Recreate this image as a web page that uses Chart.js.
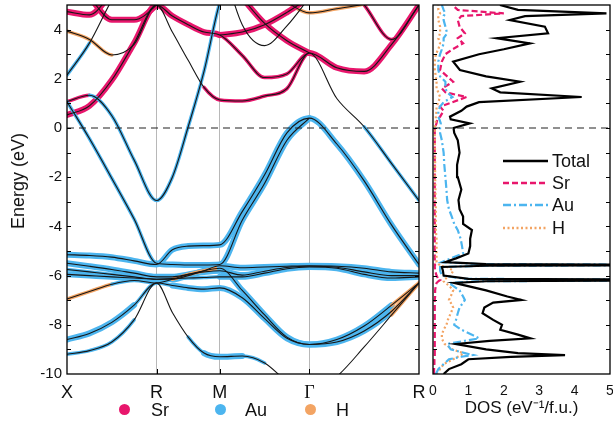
<!DOCTYPE html>
<html>
<head>
<meta charset="utf-8">
<script src="https://cdn.jsdelivr.net/npm/chart.js@4.4.0/dist/chart.umd.min.js"></script>
<style>
  body { margin: 0; background: #fff; font-family: "Liberation Sans", Arial, sans-serif; }
  #quadro { position: relative; width: 613px; height: 426px; overflow: hidden; }
  canvas { position: absolute; left: 0; top: 0; }
  .leg { position: absolute; font-size: 18px; line-height: 20px; color: #111; white-space: nowrap; }
  .ponto { position: absolute; width: 11px; height: 11px; border-radius: 50%; }
  #tituloY { position: absolute; left: 18px; top: 181px; font-size: 18px; line-height: 20px; color: #111;
    white-space: nowrap; transform: translate(-50%, -50%) rotate(-90deg); }
  svg { position: absolute; overflow: visible; }
</style>
</head>
<body>
<div id="quadro">
  <canvas id="bandas" width="613" height="426"></canvas>
  <canvas id="dos" width="613" height="426"></canvas>
  <div id="tituloY">Energy (eV)</div>

  <!-- legenda das bandas -->
  <div class="ponto" style="left:119px;top:404px;background:#e8166c"></div>
  <span class="leg" style="left:151px;top:400px">Sr</span>
  <div class="ponto" style="left:215px;top:404px;background:#4cb5ef"></div>
  <span class="leg" style="left:245px;top:400px">Au</span>
  <div class="ponto" style="left:305px;top:404px;background:#f3a463"></div>
  <span class="leg" style="left:336px;top:400px">H</span>

  <!-- legenda da DOS -->
  <svg style="left:503px;top:150px" width="46" height="90">
    <line x1="0" y1="11" x2="45" y2="11" stroke="#000" stroke-width="2.5"/>
    <line x1="0" y1="33" x2="45" y2="33" stroke="#e8166c" stroke-width="2.5" stroke-dasharray="6 3"/>
    <line x1="0" y1="55" x2="45" y2="55" stroke="#4cb5ef" stroke-width="2.5" stroke-dasharray="8 3 2 3"/>
    <line x1="0" y1="78" x2="45" y2="78" stroke="#f3a463" stroke-width="2.5" stroke-dasharray="2 2.5"/>
  </svg>
  <span class="leg" style="left:552px;top:151px">Total</span>
  <span class="leg" style="left:552px;top:173px">Sr</span>
  <span class="leg" style="left:552px;top:195px">Au</span>
  <span class="leg" style="left:552px;top:218px">H</span>
</div>

<script>
// Caminho de alta simetria (comprimento k acumulado)
const kPontos = [0, 0.707, 1.207, 1.914, 2.78];
const rotulosK = ["X", "R", "M", "Γ", "R"];
const kGrade = [0, 0.177, 0.354, 0.53, 0.707, 0.832, 0.957, 1.082, 1.207,
  1.384, 1.561, 1.737, 1.914, 2.131, 2.347, 2.564, 2.78];

// Energias (eV) de cada banda nos pontos de kGrade
const bandaB1 = [-9.2, -9.05, -8.7, -7.8, -6.3, -7.5, -8.5, -9.15, -9.3, -9.27, -9.55, -10.3, -10.8, -10.1, -8.9, -7.6, -6.3];
const bandaB2 = [-8.6, -8.35, -7.9, -7.2, -6.3, -6.4, -6.5, -6.55, -6.5, -6.9, -7.75, -8.55, -8.8, -8.7, -8.25, -7.45, -6.3];
const bandaH1 = [-6.95, -6.65, -6.35, -6.2, -6.3, -6.15, -5.95, -5.8, -5.7, -6.6, -7.6, -8.5, -8.8, -8.6, -8.05, -7.2, -6.3];
const bandaF1 = [-5.15, -5.18, -5.25, -5.4, -5.55, -4.95, -4.8, -4.78, -4.75, -3.4, -1.9, -0.2, 0.4, -0.65, -2.15, -3.95, -5.55];
const bandaV1 = [1.07, -0.43, -2.05, -3.7, -5.5, -5.55, -5.57, -5.57, -5.55, -3.75, -2.25, -0.5, 0.4, null, null, null, null];
const bandaF2 = [-5.5, -5.62, -5.75, -5.9, -6.05, -6.05, -5.95, -5.85, -5.8, -5.98, -5.82, -5.67, -5.62, -5.66, -5.85, -6.0, -6.0];
const bandaF3 = [-5.75, -5.85, -5.95, -6.05, -6.15, -6.12, -6.1, -6.08, -6.05, -6.05, -5.9, -5.72, -5.65, -5.7, -5.95, -6.1, -6.05];
const bandaF4 = [-5.95, -6.0, -6.05, -6.1, -6.15, -6.15, -6.0, -5.8, -5.6, -5.68, -5.65, -5.62, -5.6, -5.62, -5.7, -5.85, -5.9];
const bandaP1 = [1.07, 1.33, 0.5, -1.3, -2.95, -2.0, 0.05, 2.3, 5.1, 7.0, null, null, null, null, null, null, null];
const bandaU5 = [0.53, 0.9, 1.95, 3.45, 5.0, 4.55, 4.2, 3.9, 3.78, 2.95, 2.05, 2.2, 3.05, 2.45, 2.3, 3.4, 5.0];
const bandaU8 = [3.94, 3.6, 2.97, 3.4, 5.0, 3.9, 2.75, 1.65, 1.14, 1.1, 1.3, 1.6, 3.05, 1.2, 0.05, -1.45, -2.95];
const bandaU4 = [2.15, 3.45, 5.2, 6.6, 7.6, null, null, null, null, null, null, null, null, null, null, null, null];
const bandaU1 = [4.73, 4.6, 5.5, 6.5, 7.2, null, null, null, null, null, null, null, null, null, null, null, null];
const bandaU2 = [6.0, 5.3, 4.4, 4.4, 5.0, 5.8, 6.6, null, null, null, null, null, null, null, null, null, null];
const bandaU6 = [null, null, null, null, null, null, null, null, 3.78, 3.9, 4.2, 4.7, 5.3, null, null, null, null];
const bandaU7 = [null, null, null, null, null, null, null, null, 6.5, 5.3, 4.25, 3.55, 3.05, null, null, null, null];
const bandaU10 = [null, null, null, null, null, null, null, null, 7.0, 4.2, 3.35, 4.15, 5.3, null, null, null, null];
const bandaU11 = [null, null, null, null, null, null, null, null, null, 7.0, 5.6, 5.1, 4.68, 4.85, 5.05, 5.5, null];
const bandaU12 = [null, null, null, null, null, null, null, null, null, null, null, null, 7.5, 6.2, 5.0, 3.6, 5.0];

// Caráter orbital por trecho (S = Sr, A = Au, H = H; maiúscula = peso alto, "." = sem peso)
const carB1 = "aaa...aAAa.....h";
const carB2 = "AAAaaAAAAAAAAAAh";
const carH1 = "hhaaahhhAAAAAAAh";
const carF1 = "AAAAAAAAAAAAAAAA";
const carV1 = "aaaaAAAAAAAA....";
const carF2 = "AAAAAAAAAAAAAAAA";
const carF3 = "aaaaaaaaAAAAAAAA";
const carF4 = "AAAAAAAAAAAAAAAA";
const carP1 = "saaaaaaaa.......";
const carU5 = "SSSSSSSSssssSSSS";
const carU8 = "hh.....sssss..aa";
const carU4 = "a...............";
const carU1 = "SSSS............";
const carU2 = "SSSSSS..........";
const carU6 = "........SSSS....";
const carU7 = "........SSSS....";
const carU10 = "................";
const carU11 = "..........hhhh..";
const carU12 = "..............ss";

// DOS (estados/eV/f.u.) em função da energia
const energiaDos = [-10, -9.8, -9.6, -9.4, -9.3, -9.23, -9.15, -9.0, -8.78, -8.65, -8.55, -8.4, -8.2, -8.0, -7.8,
  -7.53, -7.3, -7.1, -6.99, -6.85, -6.6, -6.4, -6.3, -6.23, -6.18, -6.13, -6.0, -5.8, -5.65, -5.6, -5.57,
  -5.53, -5.45, -5.3, -5.1, -4.8, -4.5, -4.15, -3.9, -3.6, -3.3, -2.93, -2.5, -2.0, -1.5, -1.0, -0.5, -0.2,
  0, 0.19, 0.35, 0.46, 0.7, 0.87, 1.05, 1.26, 1.45, 1.61, 1.88, 2.1, 2.36, 2.7, 3.0, 3.2, 3.44, 3.65, 3.85,
  4.12, 4.39, 4.55, 4.66, 4.8, 5.0];
const dosTotal = [0.3, 0.45, 0.8, 1.0, 2.2, 3.73, 2.4, 1.5, 0.65, 1.6, 2.75, 2.4, 1.9, 1.95, 1.7,
  1.4, 1.45, 1.7, 2.5, 2.1, 1.5, 0.9, 0.6, 1.5, 9, 1.0, 0.3, 0.28, 0.25, 1.5, 9,
  1.5, 0.35, 0.65, 1.0, 1.05, 1.05, 1.1, 0.85, 0.85, 0.75, 0.72, 0.8, 0.7, 0.68, 0.75, 0.7, 0.6,
  0.58, 1.04, 0.5, 0.48, 0.8, 0.95, 1.3, 4.2, 1.9, 1.66, 2.46, 1.5, 0.76, 0.57, 1.3, 2.0, 2.74, 1.8, 3.25,
  3.16, 2.17, 2.6, 4.9, 2.4, 1.89];
const dosSr = [0.03, 0.03, 0.04, 0.04, 0.05, 0.05, 0.05, 0.05, 0.05, 0.05, 0.05, 0.05, 0.05, 0.05, 0.05,
  0.05, 0.05, 0.05, 0.05, 0.06, 0.06, 0.08, 0.1, 0.15, 0.2, 0.15, 0.1, 0.06, 0.05, 0.05, 0.06,
  0.05, 0.05, 0.05, 0.05, 0.05, 0.05, 0.05, 0.05, 0.05, 0.05, 0.05, 0.05, 0.05, 0.05, 0.05, 0.05, 0.05,
  0.05, 0.1, 0.12, 0.2, 0.3, 0.2, 0.55, 0.95, 0.35, 0.25, 0.57, 0.4, 0.2, 0.25, 0.35, 0.55, 0.85, 0.7, 0.9,
  0.75, 0.7, 0.8, 2.0, 0.7, 0.55];
const dosAu = [0.08, 0.15, 0.3, 0.45, 0.8, 1.13, 0.9, 0.5, 0.4, 0.9, 1.3, 1.1, 0.8, 0.6, 0.65,
  0.7, 0.75, 0.85, 0.9, 0.85, 0.75, 0.55, 0.45, 1.2, 9, 0.9, 0.25, 0.2, 0.2, 1.4, 9,
  1.3, 0.25, 0.5, 0.85, 0.82, 0.78, 0.7, 0.6, 0.53, 0.45, 0.4, 0.38, 0.35, 0.32, 0.3, 0.25, 0.2,
  0.2, 0.22, 0.18, 0.15, 0.15, 0.2, 0.3, 0.55, 0.4, 0.35, 0.35, 0.2, 0.15, 0.15, 0.2, 0.25, 0.3, 0.3, 0.4,
  0.35, 0.3, 0.3, 0.35, 0.3, 0.25];
const dosH = [0.1, 0.2, 0.3, 0.57, 0.7, 0.8, 0.85, 0.55, 0.33, 0.28, 0.25, 0.25, 0.3, 0.38, 0.42,
  0.5, 0.57, 0.5, 0.45, 0.5, 0.57, 0.45, 0.35, 0.3, 0.3, 0.35, 0.5, 0.57, 0.4, 0.2, 0.2,
  0.15, 0.1, 0.1, 0.1, 0.1, 0.1, 0.08, 0.08, 0.08, 0.08, 0.07, 0.07, 0.06, 0.06, 0.06, 0.05, 0.05,
  0.05, 0.08, 0.08, 0.08, 0.1, 0.1, 0.15, 0.2, 0.15, 0.1, 0.1, 0.08, 0.05, 0.05, 0.08, 0.15, 0.2, 0.15, 0.2,
  0.2, 0.15, 0.15, 0.2, 0.15, 0.15];

const corSr = "#e8166c";
const corAu = "#4cb5ef";
const corH = "#f3a463";

Chart.defaults.font.family = "'Liberation Sans', Arial, sans-serif";
Chart.defaults.color = "#111";

// moldura com ticks para dentro + linha do nível de Fermi
const moldura = {
  id: "moldura",
  afterDatasetsDraw(chart, args, opts) {
    const { ctx, chartArea: a, scales } = chart;
    const y = scales.y;
    ctx.save();
    const y0 = y.getPixelForValue(0);
    ctx.strokeStyle = "#222";
    ctx.lineWidth = 1.2;
    ctx.setLineDash([7, 5]);
    ctx.beginPath();
    ctx.moveTo(a.left, y0);
    ctx.lineTo(a.right, y0);
    ctx.stroke();
    ctx.setLineDash([]);
    ctx.strokeStyle = "#000";
    ctx.lineWidth = 1.3;
    ctx.strokeRect(a.left, a.top, a.width, a.height);
    ctx.lineWidth = 1;
    ctx.beginPath();
    for (let v = -9; v <= 4; v++) {
      const py = Math.round(y.getPixelForValue(v)) + 0.5;
      ctx.moveTo(a.left, py); ctx.lineTo(a.left + 4, py);
      ctx.moveTo(a.right - 4, py); ctx.lineTo(a.right, py);
    }
    if (opts.ticksK) {
      kPontos.slice(1, -1).forEach(k => {
        const px = Math.round(scales.x.getPixelForValue(k)) + 0.5;
        ctx.moveTo(px, a.bottom); ctx.lineTo(px, a.bottom - 5);
        ctx.moveTo(px, a.top); ctx.lineTo(px, a.top + 5);
      });
    }
    ctx.stroke();
    ctx.restore();
  }
};

function corCarater(c) {
  if (!c || c === ".") return "rgba(0,0,0,0)";
  return { S: corSr, A: corAu, H: corH }[c.toUpperCase()];
}
function larguraCarater(c) {
  if (!c || c === ".") return 1;
  return c === c.toUpperCase() ? 6 : 3.5;
}

const bandas = [
  [bandaB1, carB1], [bandaB2, carB2], [bandaH1, carH1], [bandaF1, carF1], [bandaV1, carV1],
  [bandaF2, carF2], [bandaF3, carF3], [bandaF4, carF4], [bandaP1, carP1], [bandaU5, carU5],
  [bandaU8, carU8], [bandaU4, carU4], [bandaU1, carU1], [bandaU2, carU2], [bandaU6, carU6],
  [bandaU7, carU7], [bandaU10, carU10], [bandaU11, carU11], [bandaU12, carU12]
];

const conjuntos = [];
bandas.forEach(([energias, carater]) => {
  const pontos = kGrade.map((k, i) => ({ x: k, y: energias[i] }));
  // banda "gorda" (projeção orbital) por baixo
  conjuntos.push({
    data: pontos, order: 1, pointRadius: 0, clip: 0,
    cubicInterpolationMode: "monotone", borderCapStyle: "round", borderJoinStyle: "round",
    borderColor: corAu, borderWidth: 4,
    segment: {
      borderColor: c => corCarater(carater[c.p0DataIndex]),
      borderWidth: c => larguraCarater(carater[c.p0DataIndex])
    }
  });
  // linha preta fina por cima
  conjuntos.push({
    data: pontos, order: 0, pointRadius: 0, clip: 0,
    cubicInterpolationMode: "monotone", borderColor: "#161616", borderWidth: 1.1
  });
});

new Chart(document.getElementById("bandas"), {
  type: "line",
  data: { datasets: conjuntos },
  options: {
    responsive: false,
    animation: false,
    layout: { padding: { left: 0, right: 194, top: 5, bottom: 0 } },
    plugins: { legend: { display: false }, tooltip: { enabled: false }, moldura: { ticksK: true } },
    scales: {
      x: {
        type: "linear", min: 0, max: 2.78,
        afterBuildTicks: e => { e.ticks = kPontos.map(v => ({ value: v })); },
        afterFit: e => { e.height = 52; e.paddingLeft = 0; e.paddingRight = 0; },
        border: { display: false },
        grid: {
          drawTicks: false,
          color: c => (c.index > 0 && c.index < kPontos.length - 1 ? "#b8b8b8" : "rgba(0,0,0,0)")
        },
        ticks: {
          autoSkip: false, maxRotation: 0, padding: 8,
          callback: (v, i) => rotulosK[i],
          font: c => ({ size: 18, family: c.index === 3 ? "'Liberation Serif', serif" : "'Liberation Sans', Arial, sans-serif" })
        }
      },
      y: {
        min: -10, max: 5,
        afterFit: e => { e.width = 67; e.paddingTop = 0; e.paddingBottom = 0; },
        border: { display: false },
        grid: { display: false, drawTicks: false },
        ticks: {
          stepSize: 1, padding: 5, font: { size: 15 },
          callback: v => (v % 2 === 0 && v < 5 ? String(v) : "")
        }
      }
    }
  },
  plugins: [moldura]
});

const pontosDos = serie => energiaDos.map((e, i) => ({ x: serie[i], y: e }));

new Chart(document.getElementById("dos"), {
  type: "scatter",
  data: {
    datasets: [
      { label: "Total", data: pontosDos(dosTotal), showLine: true, pointRadius: 0, borderColor: "#000", borderWidth: 2.2, order: 0, clip: 0 },
      { label: "Sr", data: pontosDos(dosSr), showLine: true, pointRadius: 0, borderColor: corSr, borderWidth: 2.2, borderDash: [6, 3], order: 3, clip: 0 },
      { label: "Au", data: pontosDos(dosAu), showLine: true, pointRadius: 0, borderColor: corAu, borderWidth: 2.2, borderDash: [8, 3, 2, 3], order: 1, clip: 0 },
      { label: "H", data: pontosDos(dosH), showLine: true, pointRadius: 0, borderColor: corH, borderWidth: 2.2, borderDash: [2, 2.5], order: 2, clip: 0 }
    ]
  },
  options: {
    responsive: false,
    animation: false,
    layout: { padding: { left: 433, right: 3, top: 5, bottom: 0 } },
    plugins: { legend: { display: false }, tooltip: { enabled: false }, moldura: { ticksK: false } },
    scales: {
      x: {
        type: "linear", min: 0, max: 5,
        afterFit: e => { e.height = 52; e.paddingLeft = 0; e.paddingRight = 0; },
        border: { display: false },
        grid: { display: false, drawTicks: false },
        title: { display: true, text: "DOS (eV⁻¹/f.u.)", font: { size: 17 }, padding: { top: 0, bottom: 7 } },
        ticks: { stepSize: 1, padding: 9, font: { size: 14 } }
      },
      y: { min: -10, max: 5, display: false }
    }
  },
  plugins: [moldura]
});
</script>
</body>
</html>
